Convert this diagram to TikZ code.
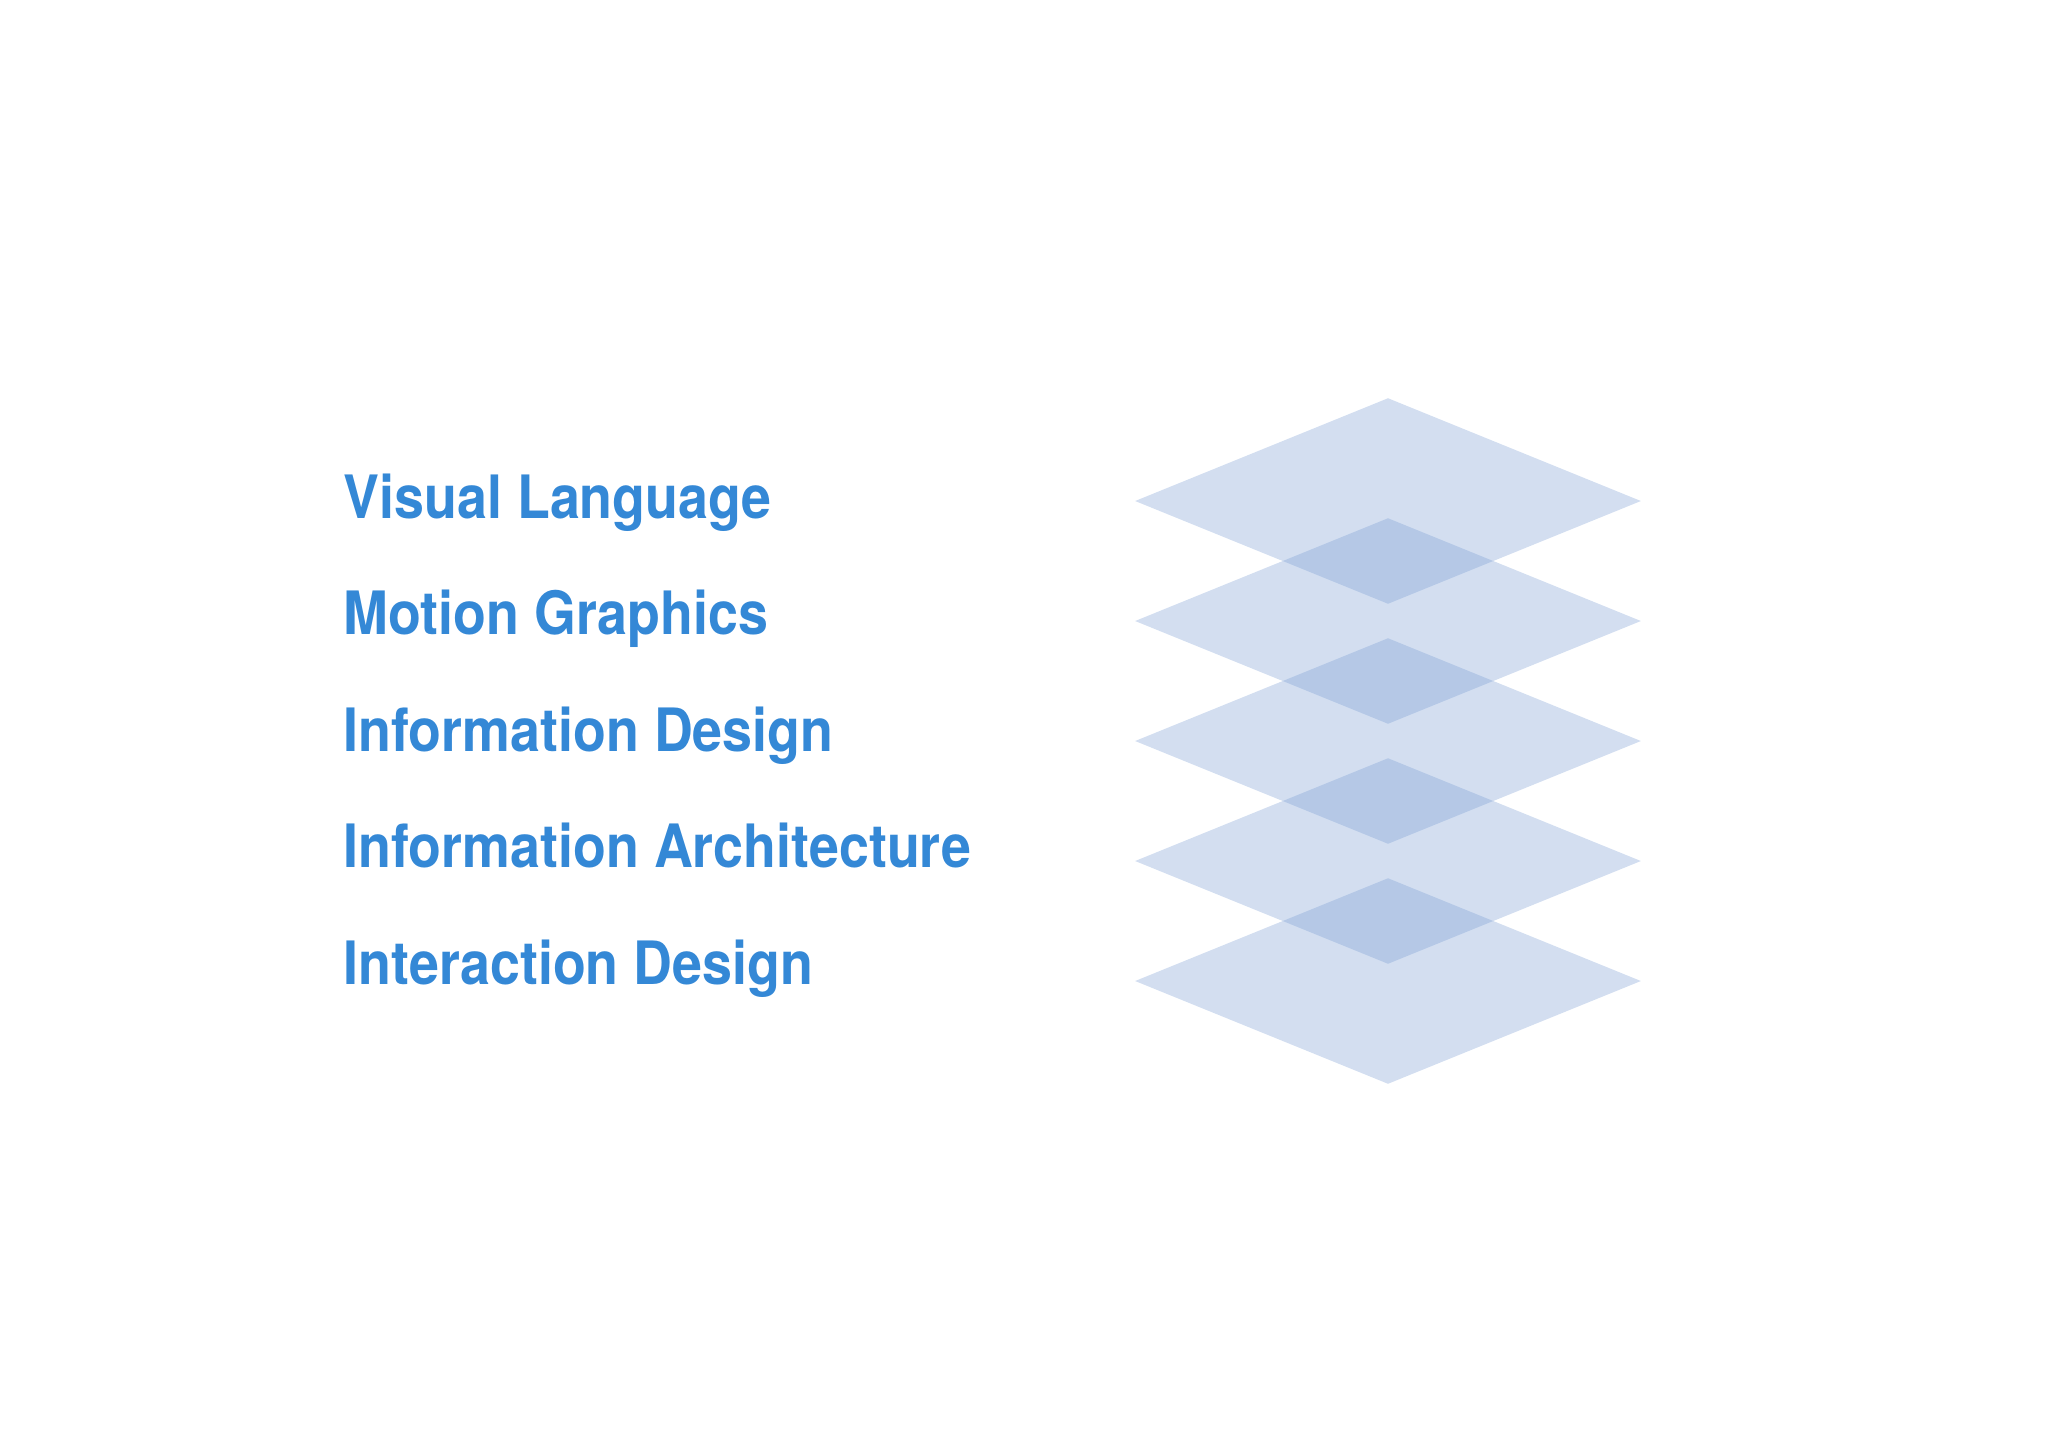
\documentclass[tikz,border=0pt]{standalone}
\usepackage{fontspec}
\setmainfont{TeX Gyre Heros}
\newfontfamily\labelfont[FakeStretch=0.9]{TeX Gyre Heros}
\usetikzlibrary{shapes.geometric,positioning}

\definecolor{labelblue}{RGB}{52,136,214}
\definecolor{layerblue}{RGB}{120,155,210}

\begin{document}
\begin{tikzpicture}[
		x=0.01cm, y=-0.01cm,
		every node/.style={inner sep=0pt},
		layerLabel/.style={anchor=base west, text=labelblue, font=\labelfont\fontsize{17}{20}\selectfont\bfseries},  % Style for the labels on the left
		layerPlane/.style={shape=diamond, minimum width=5.06cm, minimum height=2.06cm, fill=layerblue, fill opacity=0.33}
	]
	\useasboundingbox (0,0) rectangle (2048,1448);

	% Labels
	\node[layerLabel] (VL) at (343,518) {Visual Language};
	\node[layerLabel] (MG) at (343,634) {Motion Graphics};
	\node[layerLabel] (ID) at (343,751) {Information Design};
	\node[layerLabel] (IA) at (343,867) {Information Architecture};
	\node[layerLabel] (IX) at (343,984) {Interaction Design};

	% Stacked planes
	\foreach \i/\y in {1/501, 2/621, 3/741, 4/861, 5/981}
		\node[layerPlane] (P\i) at (1388,\y) {};
\end{tikzpicture}
\end{document}
